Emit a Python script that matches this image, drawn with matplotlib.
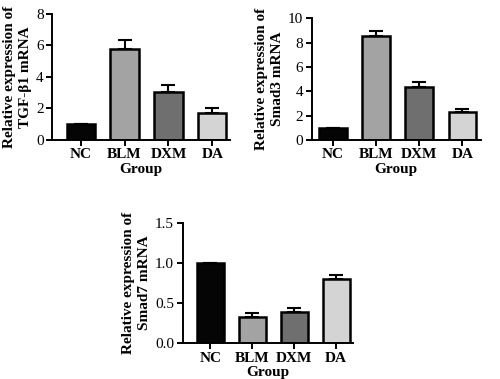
import matplotlib
matplotlib.use('Agg')
import matplotlib.pyplot as plt
import numpy as np

groups = ['NC', 'BLM', 'DXM', 'DA']
bar_colors = ['#050505', '#a3a3a3', '#6f6f6f', '#d4d4d4']

# TGF-b1
tgf_mean = [1.0, 5.8, 3.07, 1.69]
tgf_err = [0.0, 0.58, 0.42, 0.32]

# Smad3
smad3_mean = [1.0, 8.55, 4.38, 2.33]
smad3_err = [0.0, 0.43, 0.41, 0.22]

# Smad7
smad7_mean = [1.0, 0.33, 0.385, 0.80]
smad7_err = [0.0, 0.05, 0.06, 0.05]

plt.rcParams['font.family'] = ['Liberation Serif', 'DejaVu Serif']

fig = plt.figure(figsize=(5.0, 3.79), dpi=100)


def panel(rect, means, errs, ylim, yticks, ylabel, xlim, yfmt):
	ax = fig.add_axes(rect)
	x = np.arange(len(groups))
	ax.bar(x, means, 0.64, color=bar_colors, edgecolor='black', linewidth=1.8, zorder=2)
	low = [0] * len(errs)
	ax.errorbar(x, means, yerr=[low, errs], fmt='none', ecolor='black',
		elinewidth=1.5, capsize=5, capthick=1.5, zorder=1)
	ax.set_ylim(*ylim)
	ax.set_xlim(*xlim)
	ax.set_yticks(yticks)
	ax.set_yticklabels([yfmt % v for v in yticks], fontsize=11)
	ax.set_xticks(x)
	ax.set_xticklabels(groups, fontsize=11, fontweight='bold')
	ax.set_xlabel('Group', fontsize=11, fontweight='bold', labelpad=1)
	ax.set_ylabel(ylabel, fontsize=11, fontweight='bold', linespacing=1.3, labelpad=3)
	for s in ['top', 'right']:
		ax.spines[s].set_visible(False)
	for s in ['left', 'bottom']:
		ax.spines[s].set_linewidth(1.4)
	ax.tick_params(direction='out', length=4, width=1.4, pad=2)
	return ax


panel([0.104, 0.631, 0.356, 0.332], tgf_mean, tgf_err, (0, 8), [0, 2, 4, 6, 8],
	'Relative expression of\nTGF-\u03b21 mRNA', (-0.65, 3.4), '%d')
panel([0.623, 0.631, 0.338, 0.321], smad3_mean, smad3_err, (0, 10), [0, 2, 4, 6, 8, 10],
	'Relative expression of\nSmad3 mRNA', (-0.5, 3.42), '%d')
panel([0.365, 0.094, 0.341, 0.318], smad7_mean, smad7_err, (0, 1.5), [0.0, 0.5, 1.0, 1.5],
	'Relative expression of\nSmad7 mRNA', (-0.66, 3.4), '%.1f')

plt.savefig('out.png', dpi=100)
